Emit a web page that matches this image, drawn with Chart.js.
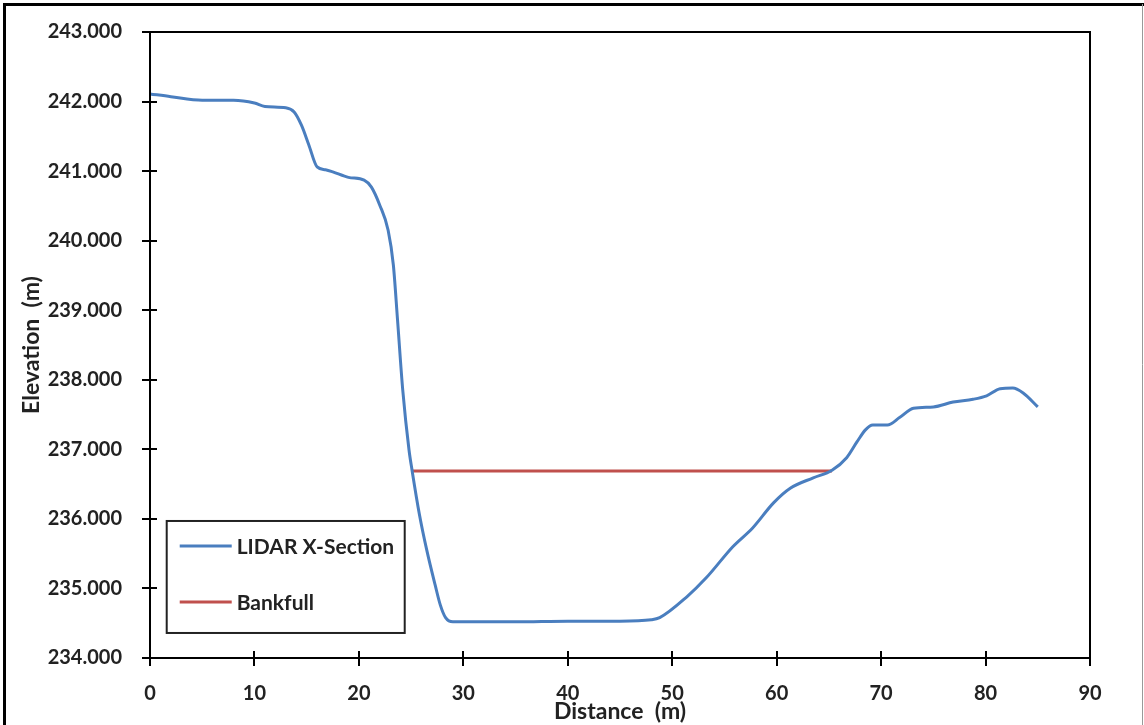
<!DOCTYPE html>
<html>
<head>
<meta charset="utf-8">
<script src="https://cdn.jsdelivr.net/npm/chart.js@4"></script>
<style>
html,body{margin:0;padding:0;background:#fff;}
#wrap{position:relative;width:1144px;height:725px;}
canvas{display:block;}
</style>
</head>
<body>
<div id="wrap"><canvas id="c" width="1144" height="725"></canvas></div>
<script>
const distance = [0, 2, 5, 8, 10, 11, 13, 13.8, 14.5, 15.2, 16, 16.8, 17.5, 19, 20.5, 21.2, 22, 22.8, 23.3, 23.7, 24.2, 24.8, 25.1, 25.8, 26.5, 27.3, 27.8, 28.3, 29, 35, 40, 45, 48, 48.8, 51.4, 53.3, 55.8, 57.7, 59.7, 61.3, 63.5, 65.3, 66.7, 67.7, 68.5, 69.2, 70.6, 71.8, 73.1, 75.0, 76.9, 78.8, 80.1, 81.4, 82.6, 83.6, 85.0];
const elevation = [242.11, 242.07, 242.02, 242.02, 241.98, 241.93, 241.91, 241.85, 241.66, 241.38, 241.06, 241.02, 240.99, 240.91, 240.87, 240.77, 240.51, 240.15, 239.65, 238.86, 237.85, 236.99, 236.69, 236.06, 235.55, 235.05, 234.76, 234.58, 234.52, 234.52, 234.53, 234.53, 234.55, 234.58, 234.88, 235.16, 235.60, 235.87, 236.23, 236.44, 236.59, 236.70, 236.88, 237.11, 237.28, 237.35, 237.35, 237.46, 237.59, 237.61, 237.68, 237.72, 237.77, 237.87, 237.88, 237.81, 237.61];
const bankfullDistance = [25.1, 65.3];
const bankfullElevation = [236.69, 236.69];
const seriesNames = ["LIDAR X-Section", "Bankfull"];
const xTicks = [0, 10, 20, 30, 40, 50, 60, 70, 80, 90];
const yTicks = [234, 235, 236, 237, 238, 239, 240, 241, 242, 243];

const BLUE = '#4a7ebf';
const RED = '#c0504d';
const FONT = "Lato, 'Open Sans', 'Liberation Sans', sans-serif";

const lidarPts = distance.map((d, i) => ({x: d, y: elevation[i]}));
const bankPts = bankfullDistance.map((d, i) => ({x: d, y: bankfullElevation[i]}));

const decor = {
  id: 'decor',
  afterDraw(chart) {
    const ctx = chart.ctx;
    const a = chart.chartArea;
    const xs = chart.scales.x, ys = chart.scales.y;
    ctx.save();
    // plot frame
    ctx.strokeStyle = '#000';
    ctx.lineWidth = 2;
    ctx.strokeRect(a.left, a.top, a.right - a.left, a.bottom - a.top);
    // crossing ticks
    xTicks.forEach(v => {
      const px = Math.round(xs.getPixelForValue(v));
      ctx.beginPath(); ctx.moveTo(px, a.bottom - 7); ctx.lineTo(px, a.bottom + 8); ctx.stroke();
    });
    yTicks.forEach(v => {
      const py = Math.round(ys.getPixelForValue(v));
      ctx.beginPath(); ctx.moveTo(a.left - 8, py); ctx.lineTo(a.left + 7, py); ctx.stroke();
    });
    // legend box
    const lx = xs.getPixelForValue(1.6), ly = ys.getPixelForValue(235.97);
    const lw = 238, lh = 112;
    ctx.fillStyle = '#fff';
    ctx.fillRect(lx, ly, lw, lh);
    ctx.lineWidth = 2;
    ctx.strokeStyle = '#222';
    ctx.strokeRect(lx, ly, lw, lh);
    const ds = chart.data.datasets;
    [25, 81].forEach((off, i) => {
      ctx.strokeStyle = ds[i].borderColor;
      ctx.lineWidth = 3;
      ctx.beginPath(); ctx.moveTo(lx + 13, ly + off); ctx.lineTo(lx + 65, ly + off); ctx.stroke();
      ctx.fillStyle = '#222';
      ctx.font = "bold 21px " + FONT;
      ctx.textBaseline = 'middle';
      ctx.textAlign = 'left';
      ctx.fillText(ds[i].label, lx + 70, ly + off + 1);
    });
    // outer frame
    ctx.strokeStyle = '#000';
    ctx.lineWidth = 3;
    ctx.beginPath();
    ctx.moveTo(4.5, 725); ctx.lineTo(4.5, 4.5); ctx.lineTo(1144, 4.5);
    ctx.stroke();
    ctx.strokeStyle = '#999';
    ctx.lineWidth = 1;
    ctx.beginPath(); ctx.moveTo(1142.5, 4); ctx.lineTo(1142.5, 725); ctx.stroke();
    ctx.restore();
  }
};

new Chart(document.getElementById('c'), {
  type: 'scatter',
  data: {
    datasets: [
      {label: seriesNames[0], data: lidarPts, showLine: true, borderColor: BLUE, backgroundColor: BLUE,
       borderWidth: 3, pointRadius: 0, cubicInterpolationMode: 'monotone'},
      {label: seriesNames[1], data: bankPts, showLine: true, borderColor: RED, backgroundColor: RED,
       borderWidth: 3, pointRadius: 0}
    ]
  },
  options: {
    responsive: false,
    animation: false,
    layout: {padding: {left: 14, top: 32, right: 54, bottom: 0}},
    plugins: {legend: {display: false}, tooltip: {enabled: false}},
    scales: {
      x: {
        type: 'linear', min: 0, max: 90,
        afterBuildTicks(s) { s.ticks = xTicks.map(v => ({value: v})); },
        afterFit(s) { s.height = 67; },
        grid: {display: false},
        border: {display: false},
        ticks: {color: '#222', padding: 16, font: {family: FONT, size: 20, weight: 'bold'}, maxRotation: 0},
        title: {display: true, text: 'Distance  (m)', color: '#222', padding: {top: 0, bottom: 0},
                font: {family: FONT, size: 23, weight: 'bold'}}
      },
      y: {
        type: 'linear', min: 234, max: 243,
        afterBuildTicks(s) { s.ticks = yTicks.map(v => ({value: v})); },
        afterFit(s) { s.width = 136; },
        grid: {display: false},
        border: {display: false},
        ticks: {color: '#222', padding: 20, font: {family: FONT, size: 20, weight: 'bold'},
                callback: v => Number(v).toFixed(3)},
        title: {display: true, text: 'Elevation  (m)', color: '#222', padding: {top: 4, bottom: 0},
                font: {family: FONT, size: 23, weight: 'bold'}}
      }
    }
  },
  plugins: [decor]
});
</script>
</body>
</html>
